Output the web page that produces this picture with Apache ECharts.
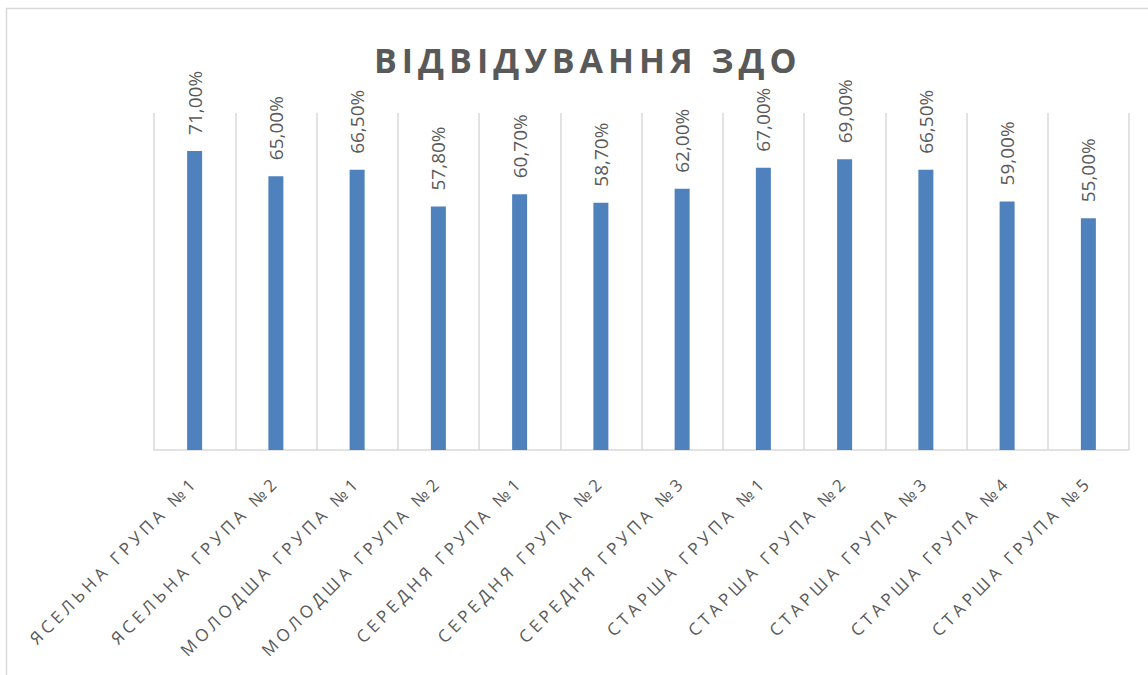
<!DOCTYPE html>
<html>
<head>
<meta charset="utf-8">
<script src="https://cdn.jsdelivr.net/npm/echarts@6/dist/echarts.min.js"></script>
<style>html,body{margin:0;padding:0;background:#fff}#c{width:1148px;height:675px}</style>
</head>
<body>
<div id="c"></div>
<script>
const titleText = 'ВІДВІДУВАННЯ ЗДО';
const categories = ['ЯСЕЛЬНА ГРУПА №1','ЯСЕЛЬНА ГРУПА №2','МОЛОДША ГРУПА №1','МОЛОДША ГРУПА №2','СЕРЕДНЯ ГРУПА №1','СЕРЕДНЯ ГРУПА №2','СЕРЕДНЯ ГРУПА №3','СТАРША ГРУПА №1','СТАРША ГРУПА №2','СТАРША ГРУПА №3','СТАРША ГРУПА №4','СТАРША ГРУПА №5'];
const attendance = [0.71, 0.65, 0.665, 0.578, 0.607, 0.587, 0.62, 0.67, 0.69, 0.665, 0.59, 0.55];

const chart = echarts.init(document.getElementById('c'), null, {renderer: 'svg'});
chart.setOption({
  animation: false,
  backgroundColor: '#ffffff',
  title: {
    text: titleText,
    left: 369,
    top: 38,
    textStyle: {fontFamily: 'Open Sans', fontWeight: 'bold', fontSize: 34, color: '#595959'}
  },
  graphic: [{
    type: 'rect', silent: true, z: -1,
    shape: {x: 6.5, y: 8.5, width: 1200, height: 700},
    style: {fill: 'none', stroke: '#d9d9d9', lineWidth: 1.5}
  }],
  grid: {left: 154, right: 19, top: 113, bottom: 225, containLabel: false},
  xAxis: {
    type: 'category',
    data: categories,
    axisLine: {show: true, lineStyle: {color: '#d9d9d9', width: 1.5}},
    axisTick: {show: false},
    splitLine: {show: true, lineStyle: {color: '#d9d9d9', width: 1.5}},
    axisLabel: {
      rotate: 45, interval: 0, margin: 29,
      fontFamily: 'Open Sans', fontSize: 17, color: '#595959'
    }
  },
  yAxis: {
    type: 'value', min: 0, max: 0.8, interval: 0.1,
    show: false, splitLine: {show: false}
  },
  series: [{
    type: 'bar',
    data: attendance,
    barWidth: 15,
    itemStyle: {color: '#4f81bd'},
    label: {
      show: true, position: 'top', rotate: 90, align: 'left', verticalAlign: 'middle',
      distance: 16,
      fontFamily: 'Open Sans', fontSize: 19, color: '#595959',
      formatter: p => (p.value * 100).toFixed(2).replace('.', ',') + '%'
    }
  }]
});

function spaceText() {
  document.querySelectorAll('#c text').forEach(t => {
    const s = t.textContent;
    if (s === titleText) t.style.letterSpacing = '5px';
    else if (categories.indexOf(s) >= 0) t.style.letterSpacing = '4px';
  });
}
spaceText();
chart.on('finished', spaceText);
setTimeout(spaceText, 50);
</script>
</body>
</html>
